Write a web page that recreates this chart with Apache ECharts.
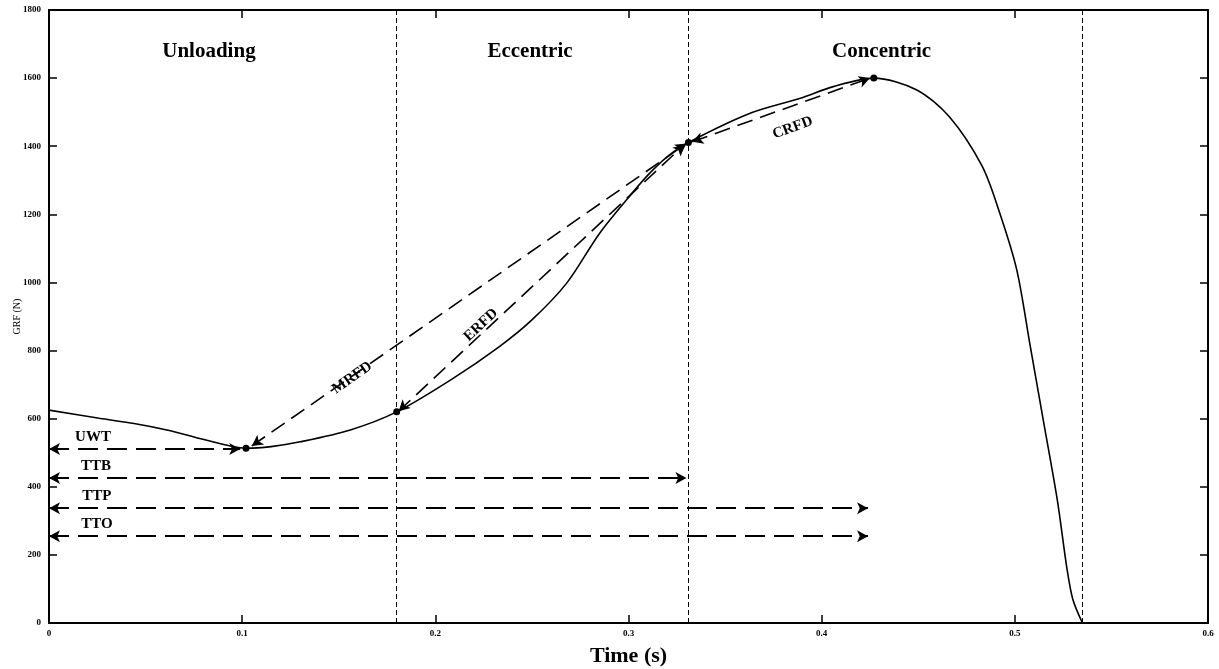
<!DOCTYPE html>
<html><head><meta charset="utf-8">
<script src="https://cdn.jsdelivr.net/npm/echarts@6/dist/echarts.min.js"></script>
<style>html,body{margin:0;padding:0;background:#fff}#c{width:1219px;height:669px}</style>
</head><body><div id="c"></div>
<script>
// ---- data ----
const timeValues = [0, 0.026, 0.044, 0.061, 0.078, 0.095, 0.102, 0.115, 0.13, 0.156, 0.18, 0.208, 0.233, 0.25, 0.268, 0.285, 0.302, 0.311, 0.32, 0.331, 0.363, 0.389, 0.406, 0.427, 0.449, 0.466, 0.483, 0.492, 0.501, 0.508, 0.515, 0.522, 0.527, 0.530, 0.535];
const grfValues  = [625, 601, 586, 567, 542, 518, 513, 518, 532, 567, 620, 714, 811, 890, 998, 1144, 1263, 1321, 1369, 1411, 1497, 1541, 1575, 1600, 1566, 1487, 1342, 1207, 1037, 812, 587, 361, 159, 70, 0];
const phaseBoundaries = [0.18, 0.331, 0.535];
const keyPointTimes = [0.102, 0.18, 0.331, 0.427];
const keyPointGrf   = [513, 620, 1411, 1600];
const phaseNames = ['Unloading', 'Eccentric', 'Concentric'];
const phaseLabelTimes = [0.0828, 0.249, 0.431];
const phaseLabelGrf = 1677;
// horizontal time arrows: name, grf level, end time, label pos
const timeArrowNames = ['UWT', 'TTB', 'TTP', 'TTO'];
const timeArrowGrf = [511, 426, 337, 255];
const timeArrowEnd = [0.099, 0.330, 0.424, 0.424];
const timeLabelT = [0.0228, 0.0243, 0.0248, 0.0248];
const timeLabelGrf = [546, 461, 373, 291];
// rate of force development arrows
const rfdNames = ['MRFD', 'ERFD', 'CRFD'];
const rfdStart = [[0.105, 520], [0.181, 622], [0.333, 1413]];
const rfdEnd   = [[0.330, 1408], [0.329, 1405], [0.425, 1600]];
const rfdLabelPos = [[0.157, 720], [0.2236, 875], [0.385, 1454]];
const rfdLabelRot = [35, 43, 20];
const xTicks = ['0', '0.1', '0.2', '0.3', '0.4', '0.5', '0.6'];
const yMin = 0, yMax = 1800;

// ---- chart ----
const serif = 'Liberation Serif';
const curve = timeValues.map((t, i) => [t, grfValues[i]]);
const pts = keyPointTimes.map((t, i) => [t, keyPointGrf[i]]);

const arrowLines = [];
timeArrowNames.forEach((n, i) => {
  arrowLines.push([{coord: [0, timeArrowGrf[i]], lineStyle: {width: 2.2, type: [20, 9]}}, {coord: [timeArrowEnd[i], timeArrowGrf[i]]}]);
});
rfdNames.forEach((n, i) => {
  arrowLines.push([{coord: rfdStart[i], lineStyle: {width: 1.6, type: [16, 8]}}, {coord: rfdEnd[i]}]);
});
const boundaryLines = phaseBoundaries.map(v => [{coord: [v, yMin]}, {coord: [v, yMax]}]);

const lbl = (extra) => Object.assign({show: true, position: 'inside', color: '#000', opacity: 1, fontFamily: serif, fontWeight: 'bold', textBorderWidth: 0}, extra);
const textData = [];
phaseNames.forEach((n, i) => textData.push({value: [phaseLabelTimes[i], phaseLabelGrf], label: lbl({formatter: n, fontSize: 21})}));
timeArrowNames.forEach((n, i) => textData.push({value: [timeLabelT[i], timeLabelGrf[i]], label: lbl({formatter: n, fontSize: 15})}));
rfdNames.forEach((n, i) => textData.push({value: rfdLabelPos[i], label: lbl({formatter: n, fontSize: 15, rotate: rfdLabelRot[i]})}));

const axisCommon = {
  axisLine: {show: true, onZero: false, lineStyle: {color: '#000', width: 2}},
  axisTick: {show: true, inside: true, length: 8, lineStyle: {color: '#000', width: 1.5}},
  splitLine: {show: false}
};

const chart = echarts.init(document.getElementById('c'), null, {renderer: 'canvas'});
chart.setOption({
  animation: false,
  backgroundColor: '#fff',
  grid: {left: 49, right: 11, top: 10, bottom: 46, containLabel: false, outerBoundsMode: 'none'},
  xAxis: [
    Object.assign({type: 'value', min: 0, max: 0.6, interval: 0.1, position: 'bottom',
      name: 'Time (s)', nameLocation: 'middle', nameGap: 22,
      nameTextStyle: {fontFamily: serif, fontSize: 22, fontWeight: 'bold', color: '#000'},
      axisLabel: {fontFamily: serif, fontSize: 9, fontWeight: 'bold', color: '#000', margin: 6,
        formatter: (v) => xTicks[Math.round(v * 10)]}}, axisCommon),
    Object.assign({type: 'value', min: 0, max: 0.6, interval: 0.1, position: 'top', axisLabel: {show: false}}, axisCommon)
  ],
  yAxis: [
    Object.assign({type: 'value', min: yMin, max: yMax, interval: 200, position: 'left',
      name: 'GRF (N)', nameLocation: 'middle', nameGap: 27, nameRotate: 90, nameMoveOverlap: false,
      nameTextStyle: {fontFamily: serif, fontSize: 10, color: '#000'},
      axisLabel: {fontFamily: serif, fontSize: 9, fontWeight: 'bold', color: '#000', margin: 8,
        formatter: (v) => String(v)}}, axisCommon),
    Object.assign({type: 'value', min: yMin, max: yMax, interval: 200, position: 'right', axisLabel: {show: false}}, axisCommon)
  ],
  series: [
    {
      type: 'line', data: curve, smooth: 0.3, showSymbol: false,
      lineStyle: {color: '#000', width: 1.6}, z: 3
    },
    {
      type: 'line', data: [], z: 2,
      markLine: {
        silent: true, symbol: 'none', label: {show: false},
        lineStyle: {color: '#000', width: 1, type: [5, 3]},
        data: boundaryLines
      }
    },
    {
      type: 'line', data: [], z: 4,
      markLine: {
        silent: true, symbol: ['arrow', 'arrow'], symbolSize: [9, 11], label: {show: false},
        lineStyle: {color: '#000'},
        data: arrowLines
      }
    },
    {
      type: 'scatter', data: pts, symbol: 'circle', symbolSize: 7,
      itemStyle: {color: '#000', opacity: 1}, z: 5
    },
    {
      type: 'scatter', data: textData, symbolSize: 0, z: 6, silent: true,
      itemStyle: {color: '#000', opacity: 1},
      label: lbl({})
    }
  ]
});
</script></body></html>
